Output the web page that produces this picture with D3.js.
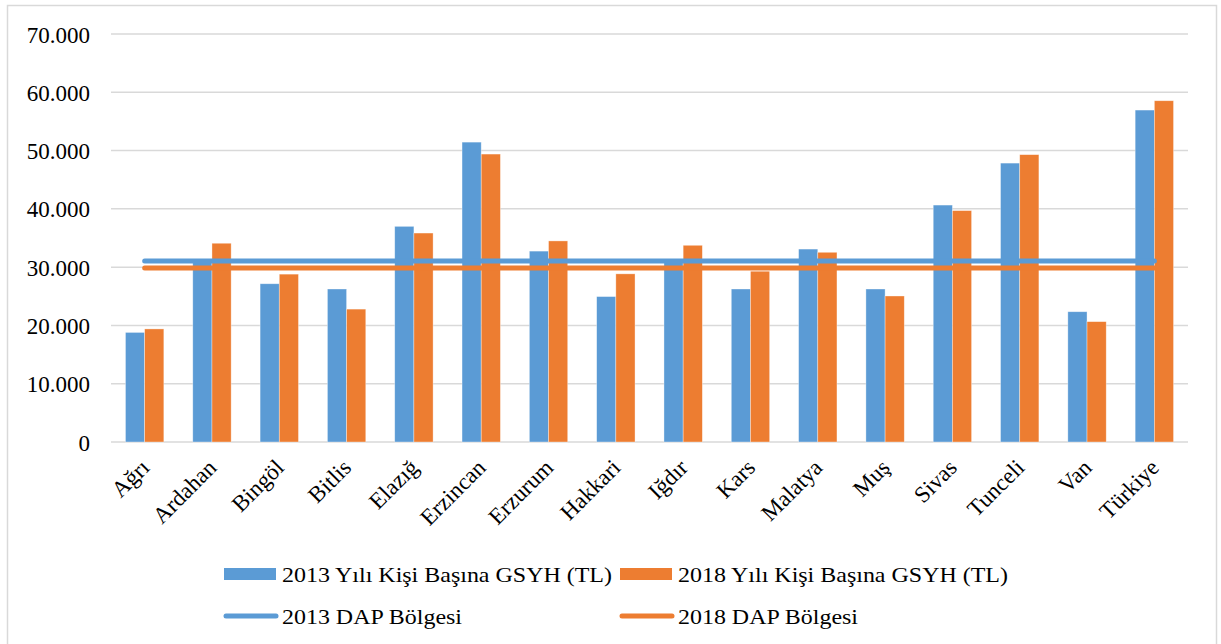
<!DOCTYPE html>
<html>
<head>
<meta charset="utf-8">
<script src="https://cdn.jsdelivr.net/npm/d3@7"></script>
<style>
  body { margin: 0; background: #fff; }
  text { font-family: "Liberation Serif", "Times New Roman", serif; fill: #000; }
</style>
</head>
<body>
<div id="chart"></div>
<script>
// data
var provinces = ["Ağrı", "Ardahan", "Bingöl", "Bitlis", "Elazığ", "Erzincan", "Erzurum", "Hakkari",
                 "Iğdır", "Kars", "Malatya", "Muş", "Sivas", "Tunceli", "Van", "Türkiye"];
var gsyh2013 = [18800, 31000, 27150, 26250, 37000, 51450, 32750, 24950,
                31000, 26250, 33100, 26250, 40650, 47850, 22350, 56950];
var gsyh2018 = [19400, 34100, 28800, 22800, 35850, 49400, 34500, 28850,
                33750, 29300, 32550, 25050, 39700, 49300, 20650, 58550];
var dap2013 = 31050;
var dap2018 = 29850;
var yTicks = [0, 10000, 20000, 30000, 40000, 50000, 60000, 70000];
var seriesNames = ["2013 Yılı Kişi Başına GSYH (TL)", "2018 Yılı Kişi Başına GSYH (TL)"];
var lineNames = ["2013 DAP Bölgesi", "2018 DAP Bölgesi"];
var colors = ["#5B9BD5", "#ED7D31"];

var W = 1221, H = 644;
var margin = { top: 34, right: 33, bottom: 202, left: 111 },
    width = W - margin.left - margin.right,
    height = H - margin.top - margin.bottom;

var svg = d3.select("#chart")
    .append("svg")
    .attr("width", W)
    .attr("height", H);

// chart border
svg.append("rect")
    .attr("x", 7.5).attr("y", 5.5)
    .attr("width", 1209).attr("height", 660)
    .attr("fill", "none")
    .attr("stroke", "#d9d9d9")
    .attr("stroke-width", 1.5);

var g = svg.append("g")
    .attr("transform", "translate(" + margin.left + "," + margin.top + ")");

var x = d3.scaleBand()
    .domain(provinces)
    .range([0, width])
    .paddingInner(0.43)
    .paddingOuter(0.215);

var x1 = d3.scaleBand()
    .domain([0, 1])
    .range([0, x.bandwidth()]);

var y = d3.scaleLinear()
    .domain([0, 70000])
    .range([height, 0]);

// gridlines
g.selectAll(".grid")
    .data(yTicks)
    .enter().append("line")
    .attr("x1", 0).attr("x2", width)
    .attr("y1", function (d) { return y(d); })
    .attr("y2", function (d) { return y(d); })
    .attr("stroke", "#d9d9d9")
    .attr("stroke-width", 1.5);

// y axis labels
var yAxis = g.append("g")
    .call(d3.axisLeft(y).tickValues(yTicks).tickSize(0).tickPadding(21)
        .tickFormat(function (d) { return d3.format(",")(d).replace(/,/g, "."); }));
yAxis.select(".domain").remove();
yAxis.selectAll("text")
    .style("font-family", "'Liberation Serif', serif")
    .style("font-size", "23px")
    .attr("fill", "#000")
    .attr("dy", "0.35em");

// bars
var rows = provinces.map(function (p, i) { return { name: p, vals: [gsyh2013[i], gsyh2018[i]] }; });

var groups = g.selectAll(".grp")
    .data(rows)
    .enter().append("g")
    .attr("transform", function (d) { return "translate(" + x(d.name) + ",0)"; });

groups.selectAll("rect")
    .data(function (d) { return d.vals.map(function (v, k) { return { k: k, v: v }; }); })
    .enter().append("rect")
    .attr("x", function (d) { return x1(d.k); })
    .attr("y", function (d) { return y(d.v); })
    .attr("width", x1.bandwidth())
    .attr("height", function (d) { return height - y(d.v); })
    .attr("fill", function (d) { return colors[d.k]; })
    .attr("stroke", "#fff")
    .attr("stroke-opacity", 0.5)
    .attr("stroke-width", 0.7);

// DAP lines
var xFirst = x(provinces[0]) + x.bandwidth() / 2;
var xLast = x(provinces[provinces.length - 1]) + x.bandwidth() / 2;
[dap2018, dap2013].forEach(function (v, i) {
    g.append("line")
        .attr("x1", xFirst).attr("x2", xLast)
        .attr("y1", y(v)).attr("y2", y(v))
        .attr("stroke", i == 0 ? colors[1] : colors[0])
        .attr("stroke-width", 5)
        .attr("stroke-linecap", "round");
});

// x labels
g.selectAll(".xl")
    .data(provinces)
    .enter().append("text")
    .attr("transform", function (d) {
        return "translate(" + (x(d) + x.bandwidth() / 2 + 6) + "," + (height + 27) + ") rotate(-45)";
    })
    .attr("text-anchor", "end")
    .style("font-size", "23px")
    .text(function (d) { return d; });

// legend
var legend = svg.append("g");
var legX = [224, 620], legRowY = [574, 616], textLen = [330, 330, 180, 180];

seriesNames.forEach(function (s, i) {
    legend.append("rect")
        .attr("x", legX[i]).attr("y", legRowY[0] - 6)
        .attr("width", 52).attr("height", 12)
        .attr("fill", colors[i]);
    legend.append("text")
        .attr("x", legX[i] + 58).attr("y", legRowY[0] + 8)
        .attr("textLength", textLen[i])
        .attr("lengthAdjust", "spacingAndGlyphs")
        .style("font-size", "22px")
        .text(s);
});

lineNames.forEach(function (s, i) {
    legend.append("line")
        .attr("x1", legX[i] + 2).attr("x2", legX[i] + 52)
        .attr("y1", legRowY[1]).attr("y2", legRowY[1])
        .attr("stroke", colors[i])
        .attr("stroke-width", 5)
        .attr("stroke-linecap", "round");
    legend.append("text")
        .attr("x", legX[i] + 58).attr("y", legRowY[1] + 8)
        .attr("textLength", textLen[i + 2])
        .attr("lengthAdjust", "spacingAndGlyphs")
        .style("font-size", "22px")
        .text(s);
});
</script>
</body>
</html>
